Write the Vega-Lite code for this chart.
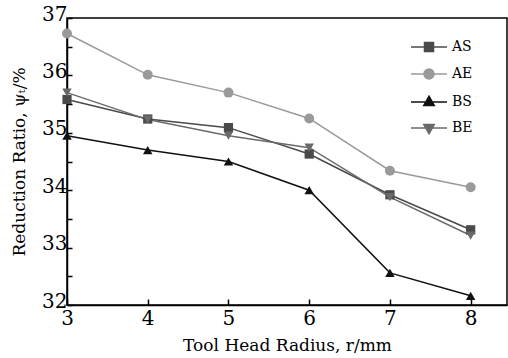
{
  "$schema": "https://vega.github.io/schema/vega-lite/v6.json",
  "width": 440,
  "height": 287,
  "autosize": {"type": "none"},
  "padding": {"left": 67, "top": 18, "right": 1, "bottom": 53},
  "background": "white",
  "config": {
    "font": "DejaVu Serif",
    "view": {"stroke": "black", "strokeWidth": 1.5},
    "axis": {
      "grid": false,
      "domainColor": "black",
      "domainWidth": 1.5,
      "tickColor": "black",
      "tickWidth": 1.5,
      "labelColor": "black",
      "labelFont": "DejaVu Serif",
      "labelFontSize": 20,
      "labelFlush": false,
      "labelOverlap": false,
      "titleFont": "DejaVu Serif",
      "titleFontSize": 17,
      "titleFontWeight": "normal",
      "titleColor": "black"
    },
    "legend": {
      "labelFont": "DejaVu Serif"
    }
  },
  "data": {
    "values": [
      {"series": "AS", "r": 3, "ratio": 35.58},
      {"series": "AS", "r": 4, "ratio": 35.24},
      {"series": "AS", "r": 5, "ratio": 35.09},
      {"series": "AS", "r": 6, "ratio": 34.63},
      {"series": "AS", "r": 7, "ratio": 33.92},
      {"series": "AS", "r": 8, "ratio": 33.31},
      {"series": "AE", "r": 3, "ratio": 36.73},
      {"series": "AE", "r": 4, "ratio": 36.01},
      {"series": "AE", "r": 5, "ratio": 35.70},
      {"series": "AE", "r": 6, "ratio": 35.25},
      {"series": "AE", "r": 7, "ratio": 34.34},
      {"series": "AE", "r": 8, "ratio": 34.05},
      {"series": "BS", "r": 3, "ratio": 34.95},
      {"series": "BS", "r": 4, "ratio": 34.70},
      {"series": "BS", "r": 5, "ratio": 34.50},
      {"series": "BS", "r": 6, "ratio": 34.00},
      {"series": "BS", "r": 7, "ratio": 32.56},
      {"series": "BS", "r": 8, "ratio": 32.16},
      {"series": "BE", "r": 3, "ratio": 35.70},
      {"series": "BE", "r": 4, "ratio": 35.23},
      {"series": "BE", "r": 5, "ratio": 34.95},
      {"series": "BE", "r": 6, "ratio": 34.74},
      {"series": "BE", "r": 7, "ratio": 33.88},
      {"series": "BE", "r": 8, "ratio": 33.21}
    ]
  },
  "encoding": {
    "x": {
      "field": "r",
      "type": "quantitative",
      "scale": {"domain": [3, 8.45], "nice": false, "zero": false},
      "axis": {
        "values": [3, 4, 5, 6, 7, 8],
        "format": "d",
        "tickSize": -6,
        "labelPadding": 9,
        "title": "Tool Head Radius, r/mm",
        "titlePadding": 9
      }
    },
    "y": {
      "field": "ratio",
      "type": "quantitative",
      "scale": {"domain": [32, 37], "nice": false, "zero": false},
      "axis": {
        "values": [32, 32.5, 33, 33.5, 34, 34.5, 35, 35.5, 36, 36.5, 37],
        "labelExpr": "datum.value % 1 === 0 ? format(datum.value, 'd') : ''",
        "tickSize": -5,
        "labelPadding": 5,
        "labelOffset": -4,
        "title": "Reduction Ratio, ψₜ/%",
        "titlePadding": 13
      }
    },
    "color": {
      "field": "series",
      "type": "nominal",
      "scale": {
        "domain": ["AS", "AE", "BS", "BE"],
        "range": ["#4a4a4a", "#9a9a9a", "#111111", "#6a6a6a"]
      },
      "legend": {
        "title": null,
        "orient": "none",
        "legendX": 343,
        "legendY": 10,
        "padding": 0,
        "rowPadding": -15,
        "labelFontSize": 14,
        "labelColor": "black",
        "labelOffset": 4,
        "symbolSize": 1296,
        "symbolStrokeWidth": 1.5,
        "encode": {
          "symbols": {
            "update": {
              "size": {"value": 1296},
              "fill": {"signal": "scale('color', datum.value)"},
              "stroke": {"signal": "scale('color', datum.value)"},
              "strokeWidth": {"value": 1.5},
              "opacity": {"value": 1},
              "shape": {"signal": "datum.value === 'AS' ? 'M-1,0H1M-0.25,-0.25H0.25V0.25H-0.25Z' : datum.value === 'AE' ? 'M-1,0H1M-0.28,0A0.28,0.28 0 1,0 0.28,0A0.28,0.28 0 1,0 -0.28,0Z' : datum.value === 'BS' ? 'M-1,0H1M0,-0.32L0.29,0.2L-0.29,0.2Z' : 'M-1,0H1M0,0.32L0.29,-0.2L-0.29,-0.2Z'"}
            }
          }
        }
      }
    }
  },
  "layer": [
    {"mark": {"type": "line", "strokeWidth": 1.5}},
    {
      "transform": [{"filter": "datum.series === 'AS'"}],
      "mark": {"type": "point", "shape": "square", "filled": true, "size": 85, "opacity": 1}
    },
    {
      "transform": [{"filter": "datum.series === 'AE'"}],
      "mark": {"type": "point", "shape": "circle", "filled": true, "size": 100, "opacity": 1}
    },
    {
      "transform": [{"filter": "datum.series === 'BS'"}],
      "mark": {"type": "point", "shape": "triangle-up", "filled": true, "size": 90, "opacity": 1}
    },
    {
      "transform": [{"filter": "datum.series === 'BE'"}],
      "mark": {"type": "point", "shape": "triangle-down", "filled": true, "size": 90, "opacity": 1}
    }
  ]
}
